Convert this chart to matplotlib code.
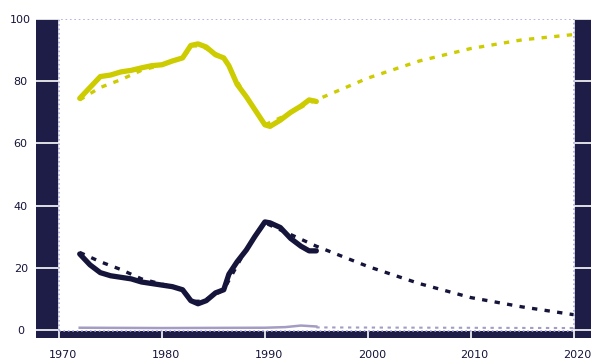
import matplotlib
matplotlib.use("Agg")
import matplotlib.pyplot as plt
import matplotlib.transforms as mtransforms
from matplotlib.patches import Rectangle

# Observed shares (percent)
obs_years = [1972, 1973, 1974, 1975, 1976, 1977, 1978, 1979, 1980, 1981, 1982,
             1982.8, 1983.5, 1984.3, 1985.2, 1986.0, 1986.5, 1987.3, 1988.2,
             1989.0, 1990.0, 1990.5, 1991.5, 1992.5, 1993.5, 1994.3, 1995]
yellow_obs = [74.5, 78, 81.5, 82, 83, 83.5, 84.3, 85, 85.3, 86.5, 87.5,
              91.5, 92, 91, 88.5, 87.5, 85, 79, 75,
              71, 66, 65.5, 67.5, 70, 72, 74, 73.5]
navy_obs = [24.5, 21, 18.5, 17.5, 17, 16.5, 15.5, 15, 14.5, 14, 13,
            9.5, 8.5, 9.5, 12, 13, 18, 22, 25.8,
            30, 34.8, 34.5, 33, 29.5, 27, 25.5, 25.5]

# Fitted / projected shares (percent)
model_years = [1972, 1974, 1976, 1978, 1980, 1982, 1983, 1984, 1986, 1988,
               1990, 1992, 1994, 1995, 2000, 2005, 2010, 2015, 2020]
yellow_model = [74, 78, 80.5, 83.5, 85.3, 87.5, 91.5, 91, 87.5, 76,
                66, 69, 72.5, 74, 81, 86.5, 90.5, 93.3, 95]
navy_model = [25, 22, 19.5, 16.5, 14.8, 13, 9.3, 9.3, 13, 25,
              34.5, 31.5, 28.5, 27, 20.5, 15, 10.5, 7.5, 5]

# Small residual share near zero
minor_years = [1972, 1980, 1990, 1992, 1993.5, 1995]
minor_obs = [0.8, 0.7, 0.8, 1.0, 1.5, 1.2]
minor_proj_years = [1995, 2020]
minor_proj = [0.9, 0.7]

x_ticks = [1970, 1980, 1990, 2000, 2010, 2020]
y_ticks = [0, 20, 40, 60, 80, 100]

NAVY = "#1e1d48"
YELLOW = "#cccc00"
INK = "#15143a"
LAVENDER = "#a49cc4"

fig = plt.figure(figsize=(5.95, 3.59), dpi=100)
ax = fig.add_axes([36 / 595, 1 - 338 / 359, (591 - 36) / 595, (338 - 19) / 359])
ax.set_facecolor(NAVY)
ax.set_xlim(1967.75, 2021.7)
ax.set_ylim(-2.5, 100)

ax.set_xticks(x_ticks)
ax.set_yticks(y_ticks)
ax.set_axisbelow(True)
ax.grid(True, color="white", linewidth=1.2)
for s in ax.spines.values():
    s.set_visible(False)
ax.tick_params(length=0, labelsize=8, colors=INK)
ax.tick_params(axis="x", pad=9)
ax.tick_params(axis="y", pad=11)
for lab in ax.get_yticklabels():
    lab.set_horizontalalignment("center")
shift = mtransforms.ScaledTranslation(4 / 100, 0, fig.dpi_scale_trans)
for lab in ax.get_xticklabels():
    lab.set_transform(lab.get_transform() + shift)

# White plotting field inside the dark frame
ax.add_patch(Rectangle((1970, -0.4), 50, 100.4, facecolor="white",
                       edgecolor="#a8a8dc", linestyle=":", linewidth=1.2,
                       zorder=1))

dash = (0, (1.6, 2.2))
ax.plot(model_years, yellow_model, color=YELLOW, lw=2.4, ls=dash, zorder=2)
ax.plot(model_years, navy_model, color=INK, lw=2.4, ls=dash, zorder=2)
ax.plot(minor_proj_years, minor_proj, color=LAVENDER, lw=1.5, ls=dash, zorder=2)

ax.plot(obs_years, yellow_obs, color=YELLOW, lw=3.8, zorder=3,
        solid_joinstyle="round", solid_capstyle="round")
ax.plot(obs_years, navy_obs, color=INK, lw=3.8, zorder=3,
        solid_joinstyle="round", solid_capstyle="round")
ax.plot(minor_years, minor_obs, color=LAVENDER, lw=1.8, zorder=3)

fig.savefig("out.png", dpi=100)
